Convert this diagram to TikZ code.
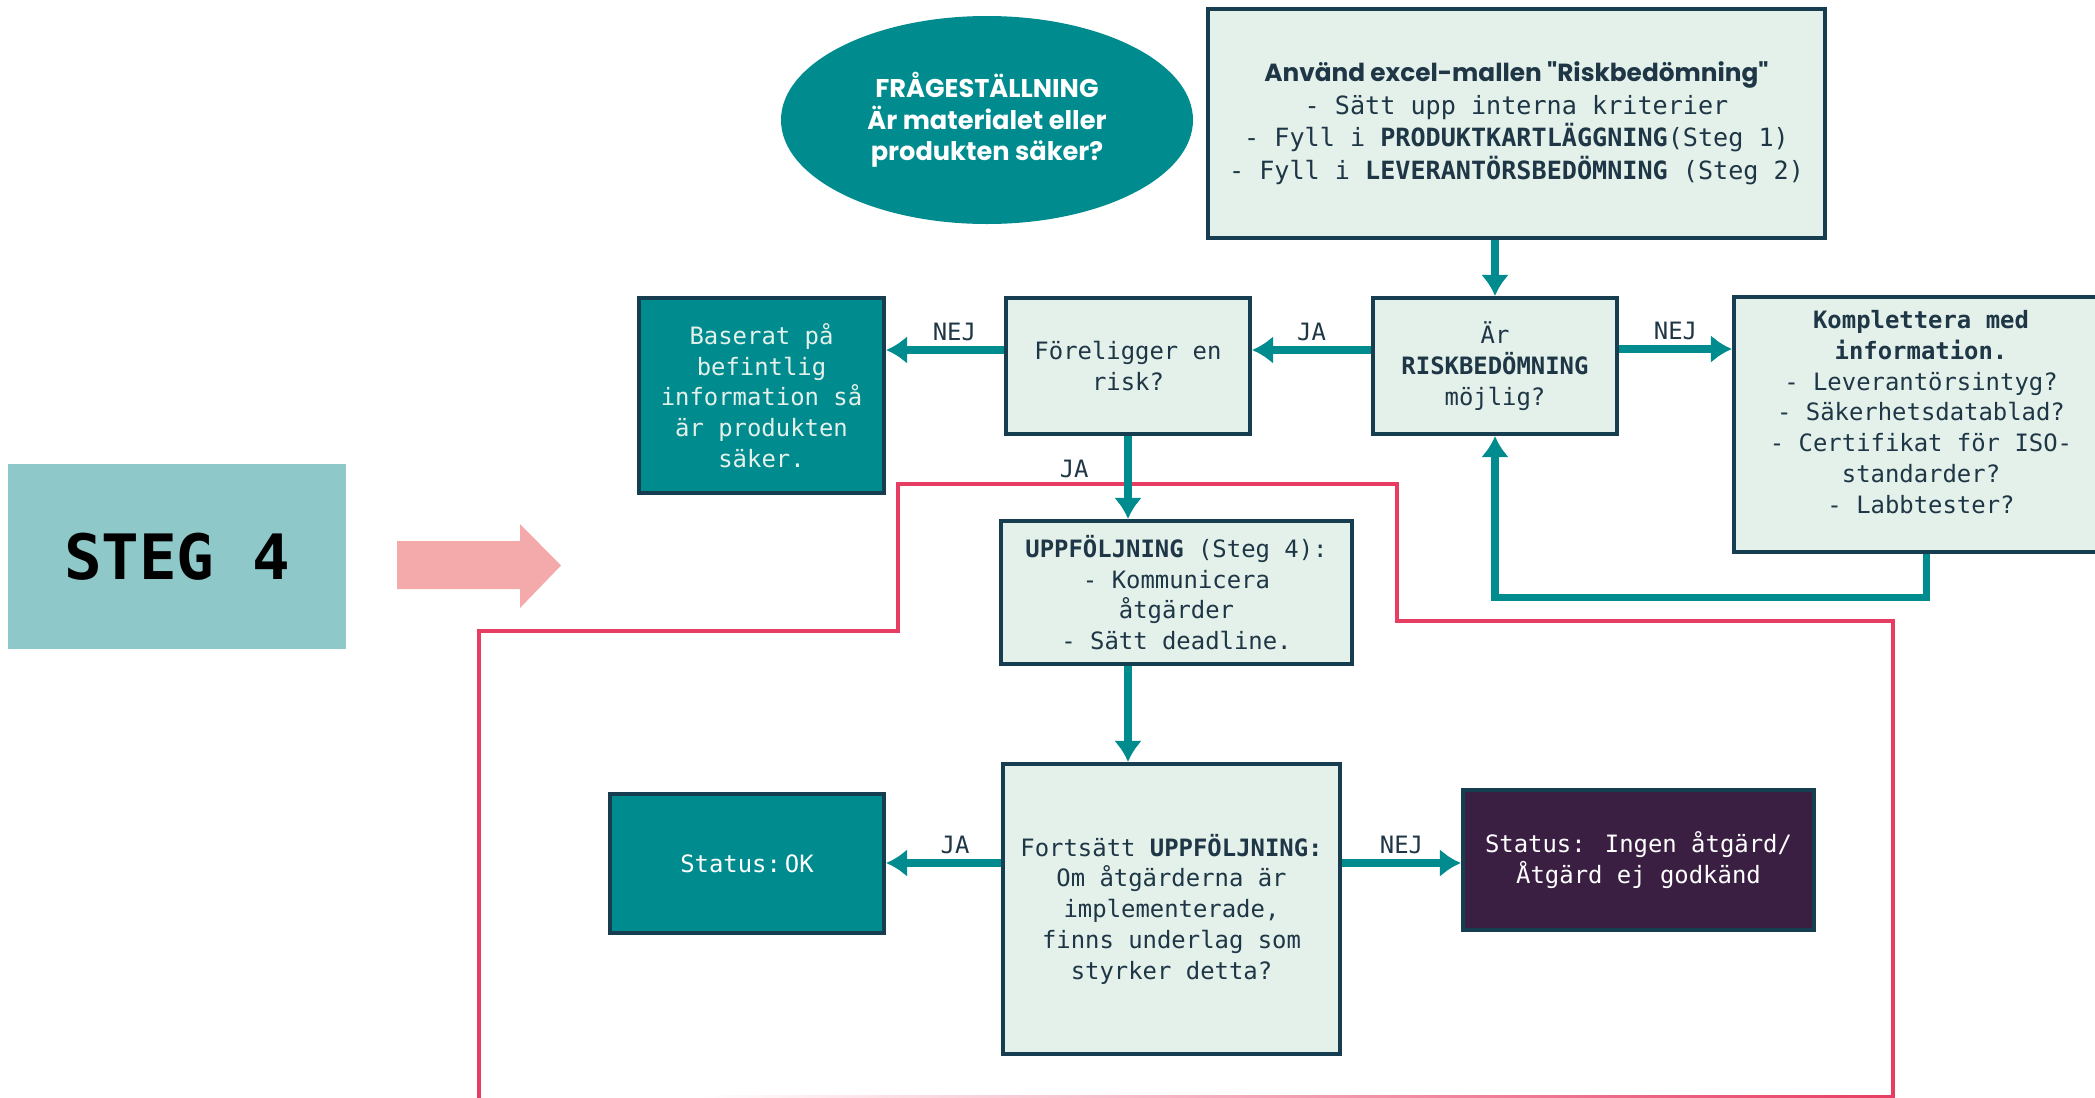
\documentclass[tikz,border=0pt]{standalone}
\usepackage{fontspec}
\setmainfont{DejaVu Sans Mono}
\newfontfamily\headfont{Poppins}
\usepackage{tikz}
\usetikzlibrary{positioning,arrows.meta,shapes.geometric}
\definecolor{flowteal}{HTML}{008B8F}
\definecolor{mint}{HTML}{E4F1EA}
\definecolor{navy}{HTML}{173E50}
\definecolor{ink}{HTML}{1E3645}
\definecolor{plum}{HTML}{3A1F42}
\definecolor{redline}{HTML}{E83D63}
\definecolor{pinkarrow}{HTML}{F4A9AA}
\definecolor{stegcol}{HTML}{8EC8C8}
\tikzstyle{box}=[draw=navy, fill=mint, line width=2.3pt, text=ink, align=center, inner sep=0pt, font=\fontsize{13.6}{17.5}\selectfont]
\tikzstyle{darkbox}=[box, fill=flowteal, text=mint]
\tikzstyle{endbox}=[box, fill=plum, text=white]
\tikzstyle{flow}=[->, draw=flowteal, line width=4pt]
\tikzstyle{lbl}=[text=ink, font=\fontsize{13.6}{17.5}\selectfont]

\begin{document}
\begin{tikzpicture}[node distance=2cm,auto,>={Latex[length=0.42cm,width=0.56cm]}]
\useasboundingbox (0,0) rectangle (41.9,-21.96);

% step 4 outline
\draw[redline, line width=2.3pt] (9.58,-22.2) -- (9.58,-12.62) -- (17.96,-12.62) -- (17.96,-9.68) -- (27.94,-9.68) -- (27.94,-12.42) -- (37.86,-12.42) -- (37.86,-22.2);
\shade[left color=white, right color=redline] (14,-21.9) rectangle (37.86,-22.02);

\node[ellipse, fill=flowteal, text=white, align=center, minimum width=8.24cm, minimum height=4.16cm, font=\headfont\bfseries\fontsize{14.6}{17.9}\selectfont] at (19.74,-2.4) (quest) {FRÅGESTÄLLNING\\Är materialet eller\\produkten säker?};

\node[box, minimum width=4.88cm, minimum height=2.72cm] at (29.9,-7.32) (bed) {Är\\\textbf{RISKBEDÖMNING}\\möjlig?};
\node[box, above of = bed, node distance = 4.85cm, xshift=0.43cm, minimum width=12.34cm, minimum height=4.58cm, font=\fontsize{14.3}{18.5}\selectfont] (mall) {{\headfont\bfseries\fontsize{14.1}{18.5}\selectfont Använd excel-mallen "Riskbedömning"}\\- Sätt upp interna kriterier\\- Fyll i \textbf{PRODUKTKARTLÄGGNING}(Steg 1)\\- Fyll i \textbf{LEVERANTÖRSBEDÖMNING} (Steg 2)};
\node[box, left of = bed, node distance = 7.34cm, minimum width=4.88cm, minimum height=2.72cm] (fore) {Föreligger en\\risk?};
\node[darkbox, left of = fore, node distance = 7.33cm, yshift=-0.59cm, minimum width=4.9cm, minimum height=3.9cm] (bas) {Baserat på\\befintlig\\information så\\är produkten\\säker.};
\node[box, right of = bed, node distance = 8.52cm, yshift=-1.17cm, minimum width=7.48cm, minimum height=5.1cm] (kompl) {\textbf{Komplettera med}\\\textbf{information.}\\- Leverantörsintyg?\\- Säkerhetsdatablad?\\- Certifikat för ISO-\\standarder?\\- Labbtester?\\[-3pt]~};

\node[box, below of = fore, node distance = 4.53cm, xshift=0.97cm, minimum width=7.02cm, minimum height=2.86cm] (upf) {\textbf{UPPFÖLJNING} (Steg 4):\\- Kommunicera\\åtgärder\\- Sätt deadline.};
\node[box, below of = upf, node distance = 6.33cm, xshift=-0.1cm, minimum width=6.74cm, minimum height=5.8cm] (fort) {Fortsätt \textbf{UPPFÖLJNING:}\\Om åtgärderna är\\implementerade,\\finns underlag som\\styrker detta?};
\node[darkbox, left of = fort, node distance = 8.49cm, yshift=0.91cm, minimum width=5.48cm, minimum height=2.78cm, text=white] (ok) {Status:\,OK};
\node[endbox, right of = fort, node distance = 9.34cm, yshift=0.98cm, minimum width=7.02cm, minimum height=2.8cm] (ingen) {Status: Ingen åtgärd/\\Åtgärd ej godkänd};

\node[fill=stegcol, minimum width=6.76cm, minimum height=3.7cm, font=\bfseries\fontsize{35.6}{40}\selectfont] at (3.54,-11.13) (steg) {STEG 4};
\fill[pinkarrow] (7.94,-10.82) -- (10.4,-10.82) -- (10.4,-10.48) -- (11.22,-11.31) -- (10.4,-12.16) -- (10.4,-11.78) -- (7.94,-11.78) -- cycle;

\draw[flow] (bed.north |- mall.south) -- (bed.north);
\draw[flow] ([yshift=0.32cm]bed.west) -- node[lbl, above] {JA} ([yshift=0.32cm]bed.west -| fore.east);
\draw[flow] ([yshift=0.32cm]fore.west) -- node[lbl, above, pos=0.42] {NEJ} ([yshift=0.32cm]fore.west -| bas.east);
\draw[flow] ([yshift=0.34cm]bed.east) -- node[lbl, above] {NEJ} ([yshift=0.34cm]bed.east -| kompl.west);
\draw[flow] ([xshift=0.1cm]kompl.south) -- ++(0,-0.86) -| (bed.south);
\draw[flow] (fore.south) -- node[lbl, pos=0.4, left, xshift=-0.6cm] {JA} (fore.south |- upf.north);
\draw[flow] (fore.south |- upf.south) -- (fore.south |- fort.north);
\draw[flow] ([yshift=0.92cm]fort.west) -- node[lbl, above, pos=0.4] {JA} ([yshift=0.92cm]fort.west -| ok.east);
\draw[flow] ([yshift=0.92cm]fort.east) -- node[lbl, above] {NEJ} ([yshift=0.92cm]fort.east -| ingen.west);
\end{tikzpicture}
\end{document}
